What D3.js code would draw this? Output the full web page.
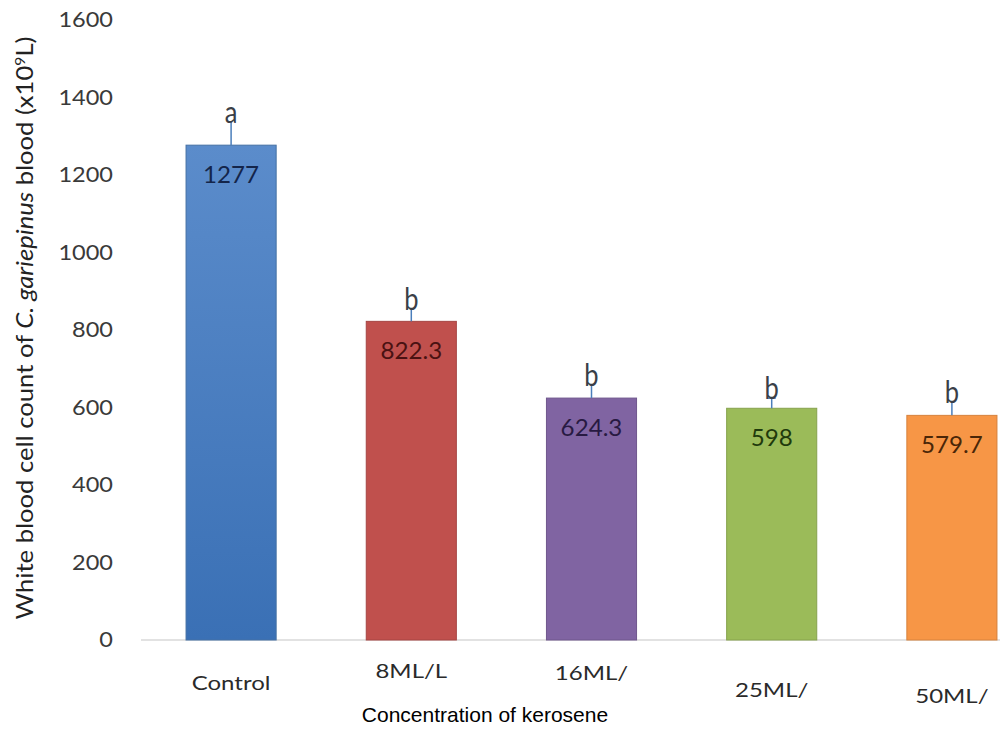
<!DOCTYPE html>
<html><head><meta charset="utf-8">
<script src="https://cdn.jsdelivr.net/npm/d3@7"></script>
<style>body{margin:0;background:#fff}svg{display:block}</style>
</head><body>
<script>
const categories = ["Control", "8ML/L", "16ML/", "25ML/", "50ML/"];
const values = [1277, 822.3, 624.3, 598, 579.7];
const errors = [60, 31, 34, 26, 34];
const capWidths = [0, 0, 0, 8, 0];
const letters = ["a", "b", "b", "b", "b"];
const yTicks = [0, 200, 400, 600, 800, 1000, 1200, 1400, 1600];
const barColors = ["#4f81bd", "#c0504d", "#8064a2", "#9bbb59", "#f79646"];
const labelColors = ["#14254a", "#4a1212", "#281a42", "#1f3a0c", "#4a2608"];
const xLabelDy = [50, 38, 40, 57, 63];

const W = 1000, H = 729;
const svg = d3.select("body").append("svg").attr("width", W).attr("height", H);
const x = d3.scaleBand().domain(categories).range([141, 1042]).paddingInner(0.5).paddingOuter(0.25);
const y = d3.scaleLinear().domain([0, 1600]).range([640, 20]);
const cx = c => x(c) + x.bandwidth() / 2;

function stretch(sel, k) {
  sel.each(function () {
    const L = this.getComputedTextLength();
    d3.select(this).attr("textLength", L * k).attr("lengthAdjust", "spacingAndGlyphs");
  });
}

const defs = svg.append("defs");
const g0 = defs.append("linearGradient").attr("id","gblue").attr("x1",0).attr("y1",0).attr("x2",0).attr("y2",1);
g0.append("stop").attr("offset","0%").attr("stop-color","#5b8ccb");
g0.append("stop").attr("offset","100%").attr("stop-color","#3a70b5");

const font = "Lato, 'Open Sans', sans-serif";

// y axis
const yAxis = svg.append("g").attr("transform","translate(113,0)")
  .call(d3.axisLeft(y).tickValues(yTicks).tickFormat(d3.format("d")).tickSize(0).tickPadding(0));
yAxis.select(".domain").remove();
yAxis.selectAll("text").attr("font-family", font).attr("font-size", 21).attr("fill","#3a3a3a");
stretch(yAxis.selectAll("text"), 1.12);

// baseline
svg.append("line").attr("x1",141).attr("x2",1000).attr("y1",y(0)).attr("y2",y(0))
  .attr("stroke","#d9d9d9").attr("stroke-width",1.5);

// bars
svg.selectAll("rect.bar").data(values).join("rect").attr("class","bar")
  .attr("x",(d,i)=>x(categories[i])).attr("width",x.bandwidth())
  .attr("y",d=>y(d)).attr("height",d=>y(0)-y(d))
  .attr("fill",(d,i)=>i===0?"url(#gblue)":barColors[i])
  .attr("stroke",(d,i)=>d3.color(barColors[i]).darker(0.4)).attr("stroke-width",1);

// error bars
svg.selectAll("line.err").data(values).join("line").attr("class","err")
  .attr("x1",(d,i)=>cx(categories[i])).attr("x2",(d,i)=>cx(categories[i]))
  .attr("y1",d=>y(d)).attr("y2",(d,i)=>y(d+errors[i]))
  .attr("stroke","#4a7ebb").attr("stroke-width",1.5);
svg.selectAll("line.cap").data(values).join("line").attr("class","cap")
  .attr("x1",(d,i)=>cx(categories[i])-capWidths[i]/2).attr("x2",(d,i)=>cx(categories[i])+capWidths[i]/2)
  .attr("y1",(d,i)=>y(d+errors[i])).attr("y2",(d,i)=>y(d+errors[i]))
  .attr("stroke","#4a7ebb").attr("stroke-width",1.5);

// letters
const lets = svg.selectAll("text.let").data(values).join("text").attr("class","let")
  .attr("x",(d,i)=>cx(categories[i])).attr("y",(d,i)=>y(d+errors[i])+1)
  .attr("text-anchor","middle").attr("font-family", font).attr("font-size",30)
  .attr("fill","#3a3f48").text((d,i)=>letters[i]);
stretch(lets, 0.85);

// value labels
const vals = svg.selectAll("text.val").data(values).join("text").attr("class","val")
  .attr("x",(d,i)=>cx(categories[i])).attr("y",d=>y(d)+38)
  .attr("text-anchor","middle").attr("font-family", font).attr("font-size",23)
  .attr("fill",(d,i)=>labelColors[i]).text(d=>d);
stretch(vals, 1.05);

// x labels
const xl = svg.selectAll("text.xl").data(categories).join("text").attr("class","xl")
  .attr("x",d=>cx(d)).attr("y",(d,i)=>y(0)+xLabelDy[i])
  .attr("text-anchor","middle").attr("font-family", font).attr("font-size",20)
  .attr("fill","#2a2a2a").text(d=>d);
stretch(xl, 1.2);

// x title
svg.append("text").attr("x",485).attr("y",722).attr("text-anchor","middle")
  .attr("font-family","'Liberation Sans', Arial, sans-serif").attr("font-size",21).attr("fill","#000")
  .text("Concentration of kerosene");

// y title
const yt = svg.append("text")
  .attr("text-anchor","middle").attr("font-family", font).attr("font-size",23).attr("fill","#222");
yt.append("tspan").text("White blood cell count of ");
yt.append("tspan").attr("font-style","italic").text("C. gariepinus");
yt.append("tspan").text(" blood (x10");
yt.append("tspan").attr("font-size",14).attr("dy",-8).text("9");
yt.append("tspan").attr("dy",8).text("L)");
const tl = yt.node().getBBox().width;
yt.attr("transform",`translate(33,328) rotate(-90) scale(${583/tl},1)`);
</script>
</body></html>
